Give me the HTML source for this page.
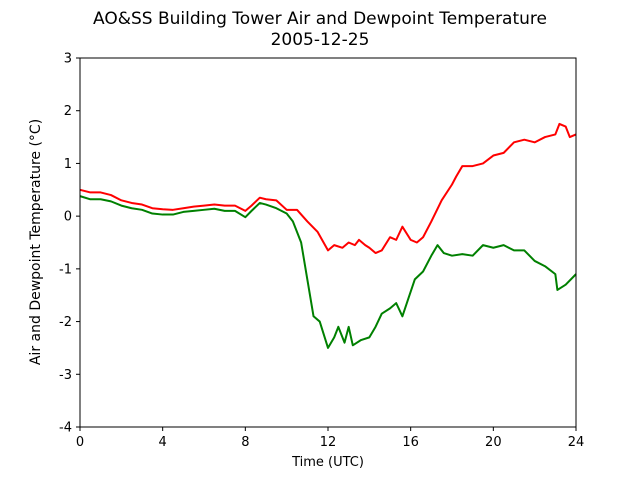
<!DOCTYPE html>
<html><head><meta charset="utf-8"><style>
body{margin:0;background:#fff;font-family:"Liberation Sans","DejaVu Sans",sans-serif}
text{font-family:"DejaVu Sans","Liberation Sans",sans-serif}
</style></head><body>
<svg id="chart" width="640" height="480" viewBox="0 0 640 480" xmlns="http://www.w3.org/2000/svg">
<rect width="640" height="480" fill="#fff"/>
<text x="320" y="24" font-size="17" text-anchor="middle">AO&amp;SS Building Tower Air and Dewpoint Temperature</text>
<text x="320" y="45" font-size="17" text-anchor="middle">2005-12-25</text>
<g id="plot"></g>
<rect x="80" y="58" width="496" height="369" fill="none" stroke="#000" stroke-width="1"/>
<text x="328" y="466" font-size="13" text-anchor="middle">Time (UTC)</text>
<text transform="translate(40,242) rotate(-90)" font-size="14" text-anchor="middle">Air and Dewpoint Temperature (°C)</text>
</svg>
<script>
const xTicks=[0,4,8,12,16,20,24];
const yTicks=[-4,-3,-2,-1,0,1,2,3];
const airHours=[0,0.5,1,1.5,2,2.5,3,3.5,4,4.5,5,5.5,6,6.5,7,7.5,8,8.3,8.7,9,9.5,10,10.5,11,11.5,12,12.3,12.7,13,13.3,13.5,13.8,14,14.3,14.6,15,15.3,15.6,16,16.3,16.6,17,17.5,18,18.2,18.5,19,19.5,20,20.5,21,21.5,22,22.5,23,23.2,23.5,23.7,24];
const airTemp=[0.5,0.45,0.45,0.4,0.3,0.25,0.22,0.15,0.13,0.12,0.15,0.18,0.2,0.22,0.2,0.2,0.1,0.2,0.35,0.32,0.3,0.12,0.12,-0.1,-0.3,-0.65,-0.55,-0.6,-0.5,-0.55,-0.45,-0.55,-0.6,-0.7,-0.65,-0.4,-0.45,-0.2,-0.45,-0.5,-0.4,-0.1,0.3,0.6,0.75,0.95,0.95,1.0,1.15,1.2,1.4,1.45,1.4,1.5,1.55,1.75,1.7,1.5,1.55];
const dewHours=[0,0.5,1,1.5,2,2.5,3,3.5,4,4.5,5,5.5,6,6.5,7,7.5,8,8.3,8.7,9,9.5,10,10.3,10.7,11,11.3,11.6,12,12.3,12.5,12.8,13,13.2,13.6,14,14.3,14.6,15,15.3,15.6,15.9,16.2,16.6,17,17.3,17.6,18,18.5,19,19.5,20,20.5,21,21.5,22,22.5,23,23.1,23.5,24];
const dewTemp=[0.38,0.32,0.32,0.28,0.2,0.15,0.12,0.05,0.03,0.03,0.08,0.1,0.12,0.14,0.1,0.1,-0.02,0.1,0.25,0.22,0.15,0.05,-0.1,-0.5,-1.2,-1.9,-2.0,-2.5,-2.3,-2.1,-2.4,-2.1,-2.45,-2.35,-2.3,-2.1,-1.85,-1.75,-1.65,-1.9,-1.55,-1.2,-1.05,-0.75,-0.55,-0.7,-0.75,-0.72,-0.75,-0.55,-0.6,-0.55,-0.65,-0.65,-0.85,-0.95,-1.1,-1.4,-1.3,-1.1];
const NS='http://www.w3.org/2000/svg';
const X=h=>80+h*(496/24);
const Y=v=>427-(v+4)*(369/7);
const g=document.getElementById('plot');
function mk(tag,attrs){const e=document.createElementNS(NS,tag);for(const k in attrs)e.setAttribute(k,attrs[k]);g.appendChild(e);return e;}
xTicks.forEach(t=>{
  const l=mk('line',{x1:X(t),x2:X(t),y1:427,y2:431,stroke:'#000'});
  
  
  const tx=mk('text',{x:X(t),y:446,'font-size':13,'text-anchor':'middle'});tx.textContent=t;
  
  
});
yTicks.forEach(t=>{
  const l=mk('line',{x1:76,x2:80,y1:Y(t),y2:Y(t),stroke:'#000'});
  
  
  const tx=mk('text',{x:72,y:Y(t)+4.5,'font-size':13,'text-anchor':'end'});tx.textContent=t;
  
  
});
function line(hs,vs,color){return mk('polyline',{points:hs.map((h,i)=>X(h)+','+Y(vs[i])).join(' '),fill:'none',stroke:color,'stroke-width':2,'stroke-linejoin':'round'});}
const air=line(airHours,airTemp,'#ff0000');


const dew=line(dewHours,dewTemp,'#008000');


</script>
</body></html>
